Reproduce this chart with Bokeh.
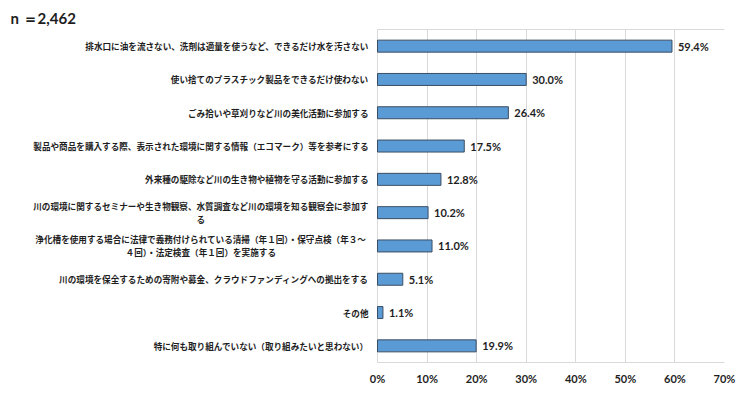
from bokeh.plotting import figure
from bokeh.models import ColumnDataSource, LabelSet, Range1d, FactorRange, FixedTicker, CustomJSTickFormatter, LinearAxis
from bokeh.core.properties import value
from bokeh.embed import file_html
from bokeh.resources import INLINE

# ---- data ----
categories = [
    "排水口に油を流さない、洗剤は適量を使うなど、できるだけ水を汚さない",
    "使い捨てのプラスチック製品をできるだけ使わない",
    "ごみ拾いや草刈りなど川の美化活動に参加する",
    "製品や商品を購入する際、表示された環境に関する情報（エコマーク）等を参考にする",
    "外来種の駆除など川の生き物や植物を守る活動に参加する",
    "川の環境に関するセミナーや生き物観察、水質調査など川の環境を知る観察会に参加す\nる",
    "浄化槽を使用する場合に法律で義務付けられている清掃（年１回）・保守点検（年３～\n４回）・法定検査（年１回）を実施する",
    "川の環境を保全するための寄附や募金、クラウドファンディングへの拠出をする",
    "その他",
    "特に何も取り組んでいない（取り組みたいと思わない）",
]
values = [59.4, 30.0, 26.4, 17.5, 12.8, 10.2, 11.0, 5.1, 1.1, 19.9]
x_ticks = [0, 10, 20, 30, 40, 50, 60, 70]
x_max = 70
sample_note = "n ＝2,462"

TEXT = "#1e1e1e"
GRID = "#d9d9d9"
JP = "Noto Sans CJK JP"
LAT = "Lato"
FS = 8.6
GAP = 9            # px between label and plot area
LEFT_PX = 377      # px of label area left of 0%
RIGHT_PAD = 16
W, H = 740, 398

plot_px = W - RIGHT_PAD - LEFT_PX
x_start = -LEFT_PX * x_max / plot_px

p = figure(width=W, height=H, output_backend="svg", toolbar_location=None,
           x_range=Range1d(x_start, x_max), y_range=FactorRange(factors=categories[::-1]),
           min_border_left=0, min_border_right=RIGHT_PAD, min_border_top=29, min_border_bottom=36)
p.background_fill_color = "white"
p.border_fill_color = "white"
p.outline_line_color = None

src = ColumnDataSource(dict(cat=categories, v=values, lab=[f"{v:.1f}%" for v in values]))
p.hbar(y="cat", left=0, right="v", height=0.36, source=src,
       fill_color="#5B9BD5", line_color="#3b4d63", line_width=1)

p.add_layout(LabelSet(x="v", y="cat", text="lab", source=src, x_offset=6,
                      text_baseline="middle", text_align="left",
                      text_font=value(LAT), text_font_style="bold",
                      text_font_size="11px", text_color=TEXT))

# category labels: single lines right-aligned, wrapped lines centred
r = dict(x=[], y=[], t=[])
c = dict(x=[], y=[], t=[], xo=[], yo=[])
for cat in categories:
    lines = cat.split("\n")
    if len(lines) == 1:
        r["x"].append(0); r["y"].append(cat); r["t"].append(cat)
    else:
        center = -GAP - len(lines[0]) * FS / 2
        nl = len(lines)
        for k, ln in enumerate(lines):
            c["x"].append(0); c["y"].append(cat); c["t"].append(ln)
            c["xo"].append(center)
            c["yo"].append(((nl - 1) / 2 - k) * 13)
p.add_layout(LabelSet(x="x", y="y", text="t", source=ColumnDataSource(r), x_offset=-GAP,
                      text_align="right", text_baseline="middle",
                      text_font=value(JP), text_font_style="bold",
                      text_font_size=f"{FS}px", text_color=TEXT))
p.add_layout(LabelSet(x="x", y="y", text="t", source=ColumnDataSource(c),
                      x_offset="xo", y_offset="yo",
                      text_align="center", text_baseline="middle",
                      text_font=value(JP), text_font_style="bold",
                      text_font_size=f"{FS}px", text_color=TEXT))

# axes / grid
p.yaxis.visible = False
p.ygrid.grid_line_color = None
p.xgrid.grid_line_color = GRID
p.xgrid.ticker = FixedTicker(ticks=x_ticks)
xa = p.xaxis[0]
xa.ticker = FixedTicker(ticks=x_ticks)
xa.bounds = (0, x_max)
xa.formatter = CustomJSTickFormatter(code="return tick.toFixed(0) + '%'")
xa.axis_line_color = GRID
xa.major_tick_line_color = None
xa.minor_tick_line_color = None
xa.major_tick_out = 0
xa.major_tick_in = 0
xa.major_label_standoff = 9
xa.major_label_text_font = LAT
xa.major_label_text_font_style = "bold"
xa.major_label_text_font_size = "11px"
xa.major_label_text_color = TEXT

top = LinearAxis(ticker=FixedTicker(ticks=[]), bounds=(0, x_max), axis_line_color=GRID,
                 major_tick_line_color=None, minor_tick_line_color=None,
                 major_tick_out=0, major_tick_in=0, major_label_text_font_size="0px")
p.add_layout(top, "above")

# sample size note as title
p.title.text = sample_note
p.title.align = "left"
p.title.offset = 10
p.title.text_font = LAT
p.title.text_font_style = "bold"
p.title.text_font_size = "15px"
p.title.text_color = TEXT
p.title.standoff = 6

open("out.html", "w").write(file_html(p, INLINE))
